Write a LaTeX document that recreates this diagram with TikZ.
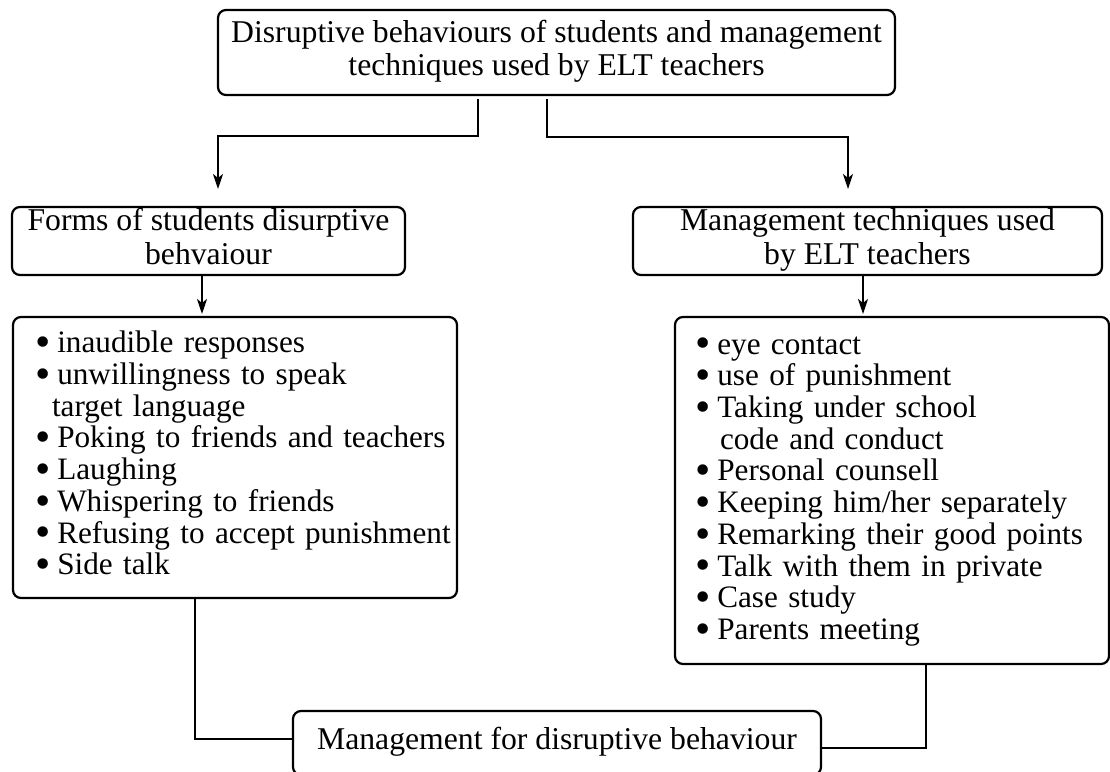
\documentclass[tikz,border=0pt]{standalone}
\usepackage{fontspec}
\setmainfont{Liberation Serif}
\usetikzlibrary{calc,shapes,arrows.meta,positioning}
\newcommand{\blt}{\raisebox{-3.7pt}[0pt][0pt]{\scalebox{1.4}{\textbullet}}\hspace{7pt}}

\begin{document}
\begin{tikzpicture}[x=1pt,y=-1pt,
  box/.style={draw,line width=2.2pt,rounded corners=8pt,inner sep=0pt,align=center,
    font=\fontsize{31.7}{33.5}\selectfont},
  listbox/.style={box,align=left,text width=#1,font=\fontsize{31.2}{31.7}\selectfont},
  line/.style={line width=2.2pt},
  arr/.style={line,-{Stealth[length=15pt,width=10pt,inset=4pt]}}]

\useasboundingbox (0,0) rectangle (1110,771);

% headings
\node[box,minimum width=677pt,minimum height=85pt] (top) at (556.5,52.5)
  {\strut Disruptive behaviours of students and management\\techniques used by ELT teachers\strut};
\node[box,minimum width=393pt,minimum height=68pt] (forms) at (208.5,241)
  {\strut Forms of students disurptive\\behvaiour\strut};
\node[box,minimum width=469pt,minimum height=68pt] (techs) at (867.5,241)
  {\strut Management techniques used\\by ELT teachers\strut};

% lists
\node[listbox=444pt,minimum height=281pt] (flist) at (235,457.5)
  {\hspace*{22pt}\begin{tabular}{@{}l@{}}
   \blt inaudible responses\\
   \blt unwillingness to speak\\
   \hspace*{17pt}target language\\
   \blt Poking to friends and teachers\\
   \blt Laughing\\
   \blt Whispering to friends\\
   \blt Refusing to accept punishment\\
   \blt Side talk
   \end{tabular}};
\node[listbox=434pt,minimum height=347pt] (tlist) at (892,490.5)
  {\hspace*{20pt}\begin{tabular}{@{}l@{}}
   \blt eye contact\\
   \blt use of punishment\\
   \blt Taking under school\\
   \hspace*{25pt}code and conduct\\
   \blt Personal counsell\\
   \blt Keeping him/her separately\\
   \blt Remarking their good points\\
   \blt Talk with them in private\\
   \blt Case study\\
   \blt Parents meeting
   \end{tabular}};

\node[box,minimum width=528pt,minimum height=64pt] (mgmt) at (557,743)
  {\strut Management for disruptive behaviour\strut};

% connectors
\coordinate (jL) at (478,136);
\coordinate (tipL) at (218,189);
\coordinate (jR) at (547,137);
\coordinate (tipR) at (848,189);
\coordinate (tipFL) at (202,314);
\coordinate (tipTL) at (863,314);
\coordinate (jBL) at (195,739);
\coordinate (jBR) at (926,748);

\draw[arr,shorten <=3pt] (top.south -| jL) -- (jL) -| (tipL);
\draw[arr,shorten <=3pt] (top.south -| jR) -- (jR) -| (tipR);
\draw[arr] (forms.south -| tipFL) -- (tipFL);
\draw[arr] (techs.south -| tipTL) -- (tipTL);
\draw[line] (flist.south -| jBL) -- (jBL) -- (mgmt.west |- jBL);
\draw[line] (tlist.south -| jBR) -- (jBR) -- (mgmt.east |- jBR);

\end{tikzpicture}
\end{document}
